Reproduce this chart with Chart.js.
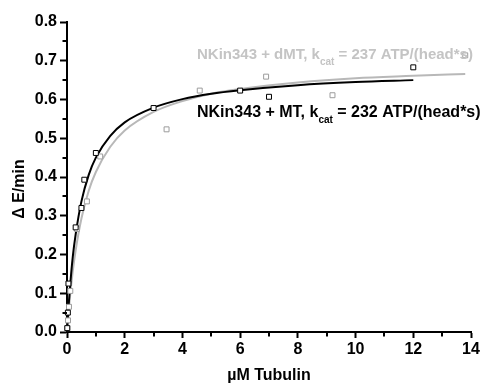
<!DOCTYPE html>
<html><head><meta charset="utf-8">
<script src="https://cdn.jsdelivr.net/npm/chart.js@4"></script>
<style>html,body{margin:0;padding:0;background:#fff}#wrap{width:488px;height:383px}</style>
</head><body><div id="wrap"><canvas id="c" width="488" height="383"></canvas></div>
<script>
// Measured points: NKin343 + MT (black)
const mtX = [0.01, 0.03, 0.05, 0.3, 0.5, 0.6, 1.0, 3.0, 6.0, 7.0, 12.0];
const mtY = [0.01, 0.05, 0.125, 0.27, 0.32, 0.393, 0.462, 0.578, 0.623, 0.607, 0.683];
// Measured points: NKin343 + dMT (gray)
const dmtX = [0.012, 0.035, 0.069, 0.115, 0.345, 0.69, 1.15, 3.45, 4.6, 6.9, 9.2, 13.8];
const dmtY = [0.01, 0.03, 0.065, 0.106, 0.266, 0.337, 0.453, 0.523, 0.623, 0.659, 0.611, 0.714];
// Fit curves
const mtFitX = [0, 0.05, 0.1, 0.2, 0.3, 0.5, 0.75, 1, 1.5, 2, 3, 4, 5, 6, 8, 10, 12];
const mtFitY = [0, 0.061, 0.112, 0.194, 0.252, 0.337, 0.405, 0.45, 0.506, 0.541, 0.579, 0.601, 0.615, 0.624, 0.637, 0.645, 0.65];
const dmtFitX = [0, 0.1, 0.2, 0.3, 0.5, 0.75, 1, 1.5, 2, 3, 4, 5, 6, 8, 10, 12, 13.8];
const dmtFitY = [0, 0.088, 0.157, 0.211, 0.293, 0.364, 0.413, 0.478, 0.52, 0.568, 0.596, 0.615, 0.627, 0.644, 0.655, 0.661, 0.666];
const xTicks = [0, 2, 4, 6, 8, 10, 12, 14];
const yTicks = [0.0, 0.1, 0.2, 0.3, 0.4, 0.5, 0.6, 0.7, 0.8];
const xMinor = [1, 3, 5, 7, 9, 11, 13];
const yMinor = [0.05, 0.15, 0.25, 0.35, 0.45, 0.55, 0.65, 0.75];
const labelDMT = ['NKin343 + dMT, k', 'cat', ' = 237 ATP/(head*s)'];
const labelMT = ['NKin343 + MT, k', 'cat', ' = 232 ATP/(head*s)'];
const xTitle = 'µM Tubulin';
const yTitle = 'Δ E/min';

const pts = (xs, ys) => xs.map((x, i) => ({x, y: ys[i]}));
const FONT = '"Liberation Sans", Arial, sans-serif';
const GRAY_LINE = '#b8b8b8', GRAY_PT = '#9c9c9c', GRAY_TXT = '#c4c4c4';

const extras = {
  id: 'extras',
  afterDraw(chart) {
    const ctx = chart.ctx, xs = chart.scales.x, ys = chart.scales.y;
    ctx.save();
    ctx.strokeStyle = '#000'; ctx.lineWidth = 2;
    const yAxisX = xs.getPixelForValue(0), xAxisY = ys.getPixelForValue(0);
    xMinor.forEach(v => { const p = Math.round(xs.getPixelForValue(v)); ctx.beginPath(); ctx.moveTo(p, xAxisY); ctx.lineTo(p, xAxisY + 4.5); ctx.stroke(); });
    yMinor.forEach(v => { const p = Math.round(ys.getPixelForValue(v)); ctx.beginPath(); ctx.moveTo(yAxisX, p); ctx.lineTo(yAxisX - 4.5, p); ctx.stroke(); });
    const drawLabel = (parts, x, y, color, size) => {
      ctx.fillStyle = color; ctx.textBaseline = 'middle'; ctx.textAlign = 'left';
      ctx.font = 'bold ' + size + 'px ' + FONT;
      ctx.fillText(parts[0], x, y); x += ctx.measureText(parts[0]).width;
      ctx.font = 'bold 10px ' + FONT;
      ctx.fillText(parts[1], x, y + 7); x += ctx.measureText(parts[1]).width;
      ctx.font = 'bold ' + size + 'px ' + FONT;
      ctx.fillText(parts[2], x, y);
    };
    drawLabel(labelDMT, 197, 55, GRAY_TXT, 15);
    drawLabel(labelMT, 197, 113, '#000', 16);
    // y axis title
    ctx.save();
    ctx.translate(20, 189); ctx.rotate(-Math.PI / 2);
    ctx.fillStyle = '#000'; ctx.font = 'bold 16px ' + FONT; ctx.textAlign = 'center'; ctx.textBaseline = 'middle';
    ctx.fillText(yTitle, 0, 0);
    ctx.restore();
    ctx.restore();
  }
};

new Chart(document.getElementById('c'), {
  type: 'scatter',
  data: {
    datasets: [
      {data: pts(dmtFitX, dmtFitY), showLine: true, borderColor: GRAY_LINE, borderWidth: 2, pointRadius: 0, cubicInterpolationMode: 'monotone', order: 4},
      {data: pts(mtFitX, mtFitY), showLine: true, borderColor: '#000', borderWidth: 2, pointRadius: 0, cubicInterpolationMode: 'monotone', order: 3},
      {data: pts(dmtX, dmtY), showLine: false, pointStyle: 'rect', pointRadius: 3.5, borderColor: GRAY_PT, backgroundColor: '#fff', borderWidth: 1, order: 2},
      {data: pts(mtX, mtY), showLine: false, pointStyle: 'rect', pointRadius: 3.5, borderColor: '#000', backgroundColor: '#fff', borderWidth: 1, order: 1}
    ]
  },
  options: {
    responsive: false, animation: false, clip: false,
    layout: {padding: {left: 0, right: 17, top: 22, bottom: 0}},
    plugins: {legend: {display: false}, tooltip: {enabled: false}},
    scales: {
      x: {
        type: 'linear', min: 0, max: 14,
        afterBuildTicks: s => { s.ticks = xTicks.map(v => ({value: v})); },
        afterFit: s => { s.height = 51; },
        grid: {display: true, drawOnChartArea: false, drawTicks: true, tickLength: 6, tickWidth: 2, tickColor: '#000'},
        border: {display: true, color: '#000', width: 2},
        ticks: {color: '#000', font: {family: FONT, size: 16, weight: 'bold'}, padding: 2, maxRotation: 0, callback: v => String(v)},
        title: {display: true, text: xTitle, color: '#000', font: {family: FONT, size: 16, weight: 'bold', lineHeight: 1}, padding: {top: 0, bottom: -1}}
      },
      y: {
        type: 'linear', min: 0, max: 0.8,
        afterBuildTicks: s => { s.ticks = yTicks.map(v => ({value: v})); },
        afterFit: s => { s.width = 67; },
        grid: {display: true, drawOnChartArea: false, drawTicks: true, tickLength: 7, tickWidth: 2, tickColor: '#000'},
        border: {display: true, color: '#000', width: 2},
        ticks: {color: '#000', font: {family: FONT, size: 16, weight: 'bold'}, padding: 3, callback: v => Number(v).toFixed(1)},
        title: {display: false}
      }
    }
  },
  plugins: [extras]
});
</script></body></html>
